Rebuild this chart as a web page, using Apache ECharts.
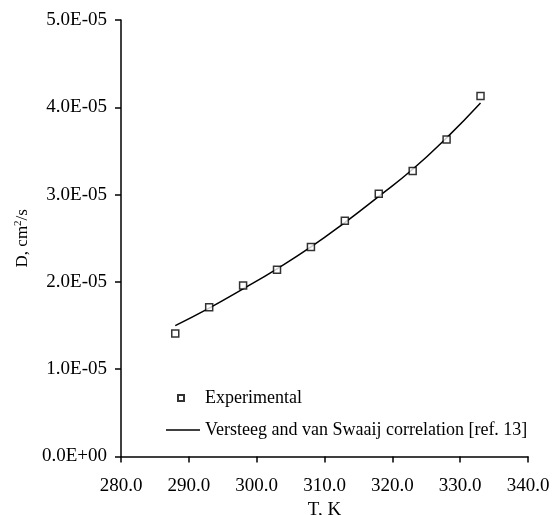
<!DOCTYPE html>
<html><head><meta charset="utf-8">
<script src="https://cdn.jsdelivr.net/npm/echarts@6/dist/echarts.min.js"></script>
<style>html,body{margin:0;padding:0;background:#fff}#c{width:552px;height:515px}</style>
</head><body><div id="c"></div>
<script>
const temps = [288, 293, 298, 303, 308, 313, 318, 323, 328, 333];
const experimental = [1.41e-5, 1.71e-5, 1.96e-5, 2.14e-5, 2.40e-5, 2.70e-5, 3.01e-5, 3.27e-5, 3.63e-5, 4.13e-5];
const correlation = [1.50e-5, 1.70e-5, 1.92e-5, 2.15e-5, 2.40e-5, 2.68e-5, 2.98e-5, 3.29e-5, 3.65e-5, 4.05e-5];
const seriesNames = ['Experimental', 'Versteeg and van Swaaij correlation [ref. 13]'];

function sci(v) {
  if (v === 0) return '0.0E+00';
  const e = Math.floor(Math.log10(Math.abs(v)) + 1e-9);
  const m = v / Math.pow(10, e);
  const sign = e < 0 ? '-' : '+';
  const ae = Math.abs(e);
  return m.toFixed(1) + 'E' + sign + (ae < 10 ? '0' + ae : ae);
}
const font = 'Liberation Serif';
const legendText = { fontFamily: font, fontSize: 18, color: '#000' };
const chart = echarts.init(document.getElementById('c'));
chart.setOption({
  animation: false,
  backgroundColor: '#fff',
  textStyle: { fontFamily: font, color: '#000' },
  grid: { left: 121, right: 24, top: 20, bottom: 58.5, containLabel: false, outerBoundsMode: 'none' },
  legend: [
    {
      left: 172, top: 384, itemWidth: 6, itemHeight: 6,
      textStyle: Object.assign({ padding: [0, 0, 0, 16] }, legendText),
      data: [seriesNames[0]]
    },
    {
      left: 161, top: 416, itemWidth: 34, itemHeight: 14,
      textStyle: legendText,
      data: [{ name: seriesNames[1], icon: 'path://M0,0H35V1.5H0Z', itemStyle: { color: '#000' } }]
    }
  ],
  xAxis: {
    type: 'value', min: 280, max: 340, interval: 10,
    name: 'T, K', nameLocation: 'middle', nameGap: 40,
    nameTextStyle: { fontFamily: font, fontSize: 19, color: '#000' },
    axisLine: { show: true, lineStyle: { color: '#000', width: 1.5 } },
    axisTick: { show: true, inside: false, length: 6, lineStyle: { color: '#000', width: 1.5 } },
    axisLabel: { fontFamily: font, fontSize: 19, color: '#000', margin: 20, formatter: v => v.toFixed(1) },
    splitLine: { show: false }
  },
  yAxis: {
    type: 'value', min: 0, max: 5e-5, interval: 1e-5,
    name: '{a|D, cm}{s|2}{a|/s}', nameLocation: 'middle', nameGap: 88, nameRotate: 90,
    nameTextStyle: {
      fontFamily: font, fontSize: 17, color: '#000',
      rich: { a: { fontFamily: font, fontSize: 17, color: '#000' }, s: { fontFamily: font, fontSize: 11, color: '#000', verticalAlign: 'top', padding: [0, 0, 8, 0] } }
    },
    axisLine: { show: true, lineStyle: { color: '#000', width: 1.5 } },
    axisTick: { show: true, inside: false, length: 6, lineStyle: { color: '#000', width: 1.5 } },
    axisLabel: { fontFamily: font, fontSize: 19, color: '#000', margin: 14, formatter: v => sci(v) },
    splitLine: { show: false }
  },
  series: [
    {
      name: seriesNames[0], type: 'scatter', symbol: 'rect', symbolSize: 7,
      itemStyle: { color: '#fff', borderColor: '#000', borderWidth: 1.5 },
      data: temps.map((t, i) => [t, experimental[i]]), z: 3
    },
    {
      name: seriesNames[1], type: 'line', smooth: true, symbol: 'none', showSymbol: false,
      lineStyle: { color: '#000', width: 1.5 }, itemStyle: { color: '#000' },
      data: temps.map((t, i) => [t, correlation[i]]), z: 2
    }
  ]
});
</script></body></html>
